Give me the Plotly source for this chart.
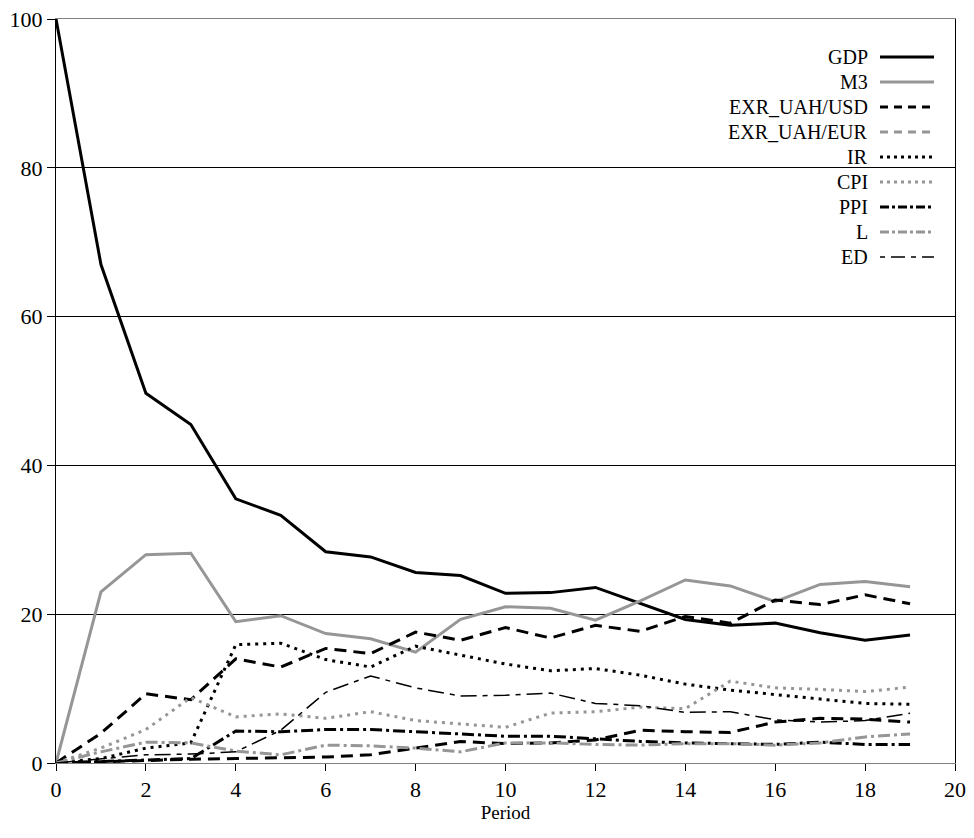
import plotly.graph_objects as go

period = list(range(20))

gdp = [100, 67.0, 49.7, 45.5, 35.5, 33.3, 28.4, 27.7, 25.6, 25.2,
       22.8, 22.9, 23.6, 21.5, 19.3, 18.5, 18.8, 17.5, 16.5, 17.2]
m3 = [0, 23.0, 28.0, 28.2, 19.0, 19.8, 17.4, 16.7, 14.9, 19.3,
      21.0, 20.8, 19.2, 21.8, 24.6, 23.8, 21.7, 24.0, 24.4, 23.7]
exr_usd = [0, 4.0, 9.3, 8.5, 14.0, 12.9, 15.4, 14.7, 17.6, 16.5,
           18.2, 16.8, 18.5, 17.7, 19.7, 18.8, 21.9, 21.3, 22.6, 21.4]
exr_eur = [0, 0.2, 0.3, 0.5, 0.6, 0.7, 0.8, 1.1, 2.0, 2.9,
           2.6, 2.7, 3.1, 4.4, 4.2, 4.1, 5.5, 6.0, 5.9, 5.5]
ir = [0, 0.6, 2.0, 2.7, 15.9, 16.1, 13.9, 12.9, 15.7, 14.5,
      13.3, 12.4, 12.7, 11.8, 10.6, 9.8, 9.2, 8.6, 8.0, 7.9]
cpi = [0, 2.0, 4.5, 8.8, 6.2, 6.6, 6.0, 6.9, 5.7, 5.2,
       4.8, 6.7, 6.9, 7.5, 7.3, 11.0, 10.1, 9.9, 9.6, 10.2]
ppi = [0, 0.2, 0.3, 0.6, 4.3, 4.2, 4.5, 4.5, 4.2, 3.9,
       3.6, 3.6, 3.2, 2.9, 2.7, 2.6, 2.5, 2.8, 2.5, 2.5]
l_emp = [0, 1.5, 2.8, 2.7, 1.6, 1.1, 2.4, 2.3, 2.0, 1.5,
         2.7, 2.7, 2.5, 2.4, 2.6, 2.6, 2.4, 2.7, 3.5, 3.9]
ed = [0, 0.5, 1.1, 1.2, 1.5, 4.4, 9.5, 11.7, 10.1, 9.0,
      9.1, 9.4, 8.0, 7.7, 6.8, 6.9, 5.8, 5.5, 5.7, 6.7]

x_ticks = [0, 2, 4, 6, 8, 10, 12, 14, 16, 18, 20]
y_ticks = [0, 20, 40, 60, 80, 100]

BLACK = "#000000"
GREY = "#969696"
FONT = "Liberation Serif"

# name, values, plot colour, legend colour, width, dash (plot), dash (legend sample)
series = [
    ("GDP", gdp, BLACK, BLACK, 3, "solid", "solid"),
    ("M3", m3, GREY, GREY, 3, "solid", "solid"),
    ("EXR_UAH/USD", exr_usd, BLACK, BLACK, 3, "12px,7px", "8px,6px"),
    ("EXR_UAH/EUR", exr_eur, BLACK, GREY, 3, "12px,7px", "8px,6px"),
    ("IR", ir, BLACK, BLACK, 3, "3px,5px", "3px,4px"),
    ("CPI", cpi, GREY, GREY, 3, "3px,5px", "3px,4px"),
    ("PPI", ppi, BLACK, BLACK, 3, "12px,4px,3px,4px", "9px,3px,3px,3px"),
    ("L", l_emp, GREY, GREY, 3, "12px,4px,3px,4px", "9px,3px,3px,3px"),
    ("ED", ed, BLACK, BLACK, 1.5, "16px,6px,5px,6px", "5px,6px,14px,6px"),
]

fig = go.Figure()
for name, vals, col, _, w, dash, _ in series:
    fig.add_trace(go.Scatter(
        x=period, y=vals, mode="lines", name=name,
        line=dict(color=col, width=w, dash=dash),
        showlegend=False,
    ))

W, H = 974, 838
ML, MR, MT, MB = 56, 19, 19, 75
pw, ph = W - ML - MR, H - MT - MB

def px_to_paper_x(px):
    return (px - ML) / pw

def px_to_paper_y(py):
    return (H - MB - py) / ph

# hand-built legend: right-aligned label followed by a line sample
annotations = []
shapes = []
row0, row_step = 57, 25
for i, (name, _, _, lcol, w, _, sdash) in enumerate(series):
    yy = px_to_paper_y(row0 + i * row_step)
    annotations.append(dict(
        text=name, xref="paper", yref="paper",
        x=px_to_paper_x(870), y=yy, xanchor="right", yanchor="middle",
        showarrow=False, font=dict(family=FONT, size=20, color=BLACK),
    ))
    shapes.append(dict(
        type="line", xref="paper", yref="paper",
        x0=px_to_paper_x(880), x1=px_to_paper_x(934), y0=yy, y1=yy,
        line=dict(color=lcol, width=w, dash=sdash),
    ))

fig.update_layout(
    width=W, height=H,
    margin=dict(l=ML, r=MR, t=MT, b=MB, autoexpand=False),
    paper_bgcolor="white", plot_bgcolor="white",
    font=dict(family=FONT, size=20, color=BLACK),
    annotations=annotations,
    shapes=shapes,
    xaxis=dict(
        range=[0, 20], tickvals=x_ticks, ticktext=[str(v) for v in x_ticks],
        showgrid=False, zeroline=False, automargin=False,
        showline=True, linecolor="#808080", linewidth=1, mirror=True,
        ticks="outside", ticklen=7, tickcolor=BLACK, tickwidth=1,
        tickfont=dict(family=FONT, size=22, color=BLACK),
        title=dict(text="Period", font=dict(family=FONT, size=19, color=BLACK), standoff=2),
    ),
    yaxis=dict(
        range=[0, 100], tickvals=y_ticks, ticktext=[str(v) for v in y_ticks],
        showgrid=True, gridcolor=BLACK, gridwidth=1, zeroline=False, automargin=False,
        showline=True, linecolor=BLACK, linewidth=1, mirror=True,
        ticks="outside", ticklen=8, tickcolor=BLACK, tickwidth=1,
        tickfont=dict(family=FONT, size=22, color=BLACK),
    ),
)

fig.write_html("out.html")
